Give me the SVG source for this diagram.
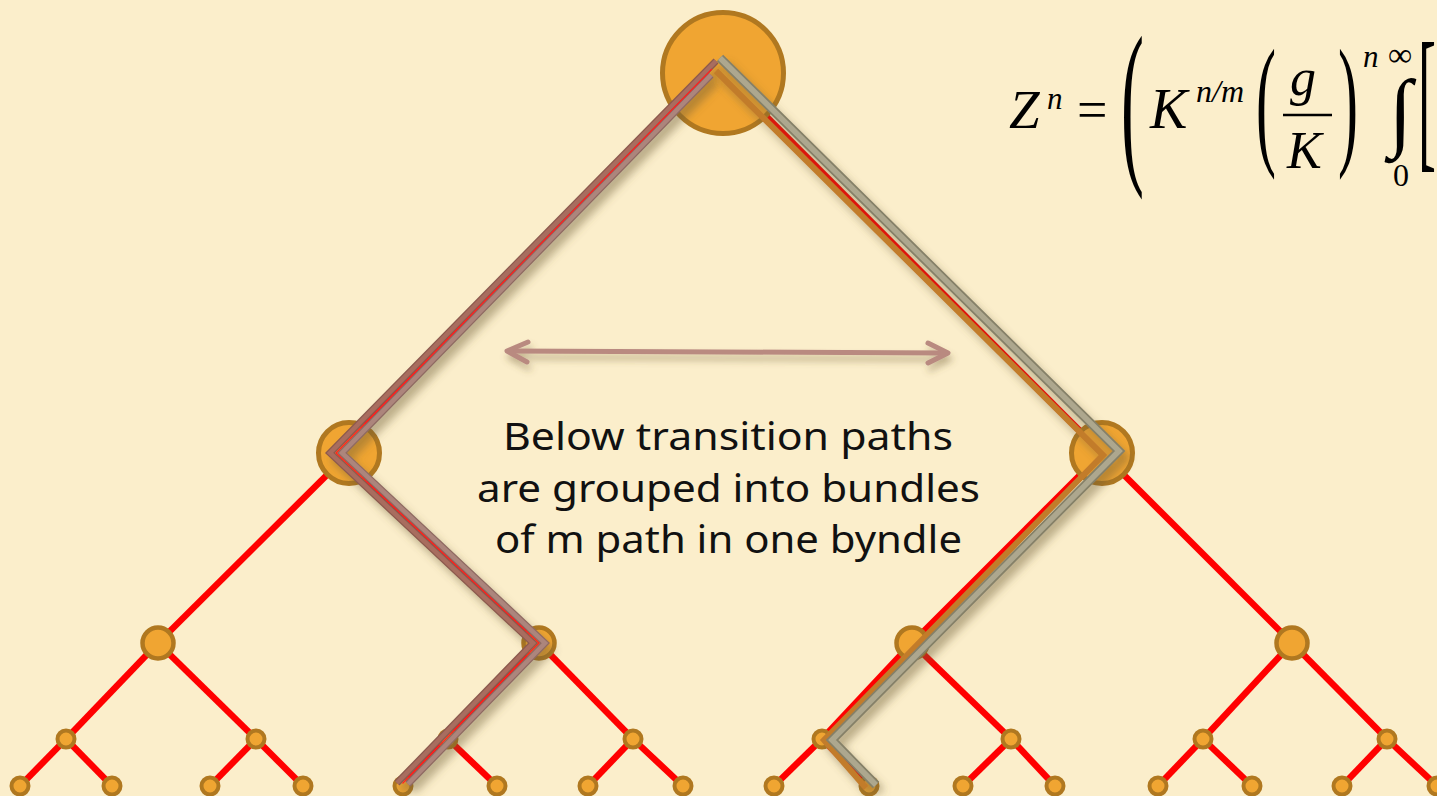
<svg xmlns="http://www.w3.org/2000/svg" width="1437" height="796" viewBox="0 0 1437 796">
<defs>
<style>
.edge{stroke:#FF0000;stroke-width:6.5;fill:none}
.node{fill:#F0A532;stroke:#B07820}
.n0{stroke-width:5}
.n1{stroke-width:5}
.n2{stroke-width:4.5}
.n3{stroke-width:4}
.lab{font-family:"Noto Sans","Open Sans",sans-serif;font-size:39px;fill:#111;text-anchor:middle}
.m{font-family:"Liberation Serif","Times New Roman",serif;fill:#000}
.mi{font-family:"Liberation Serif","Times New Roman",serif;font-style:italic;fill:#000}
.bo{fill:none;stroke-linejoin:miter;stroke-linecap:butt}
</style>
<filter id="sh" x="-10%" y="-10%" width="130%" height="130%">
<feDropShadow dx="5" dy="7" stdDeviation="4.5" flood-color="#6b5a30" flood-opacity="0.45"/>
</filter>
<filter id="sh2" x="-10%" y="-200%" width="120%" height="500%">
<feDropShadow dx="2" dy="6" stdDeviation="3.5" flood-color="#6b5a30" flood-opacity="0.4"/>
</filter>
</defs>
<rect x="0" y="0" width="1437" height="796" fill="#FBEECB"/>

<g id="connectors">
<line class="edge" x1="708" y1="73" x2="336" y2="453"/>
<line class="edge" x1="723" y1="73" x2="1102" y2="453"/>
<line class="edge" x1="349" y1="453" x2="158" y2="643"/>
<line class="edge" x1="336" y1="453" x2="539" y2="643"/>
<line class="edge" x1="1102" y1="453" x2="912" y2="643"/>
<line class="edge" x1="1102" y1="453" x2="1292" y2="643"/>
<line class="edge" x1="158" y1="643" x2="66" y2="739"/>
<line class="edge" x1="158" y1="643" x2="256" y2="739"/>
<line class="edge" x1="539" y1="643" x2="448" y2="739"/>
<line class="edge" x1="539" y1="643" x2="633" y2="739"/>
<line class="edge" x1="912" y1="643" x2="822" y2="739"/>
<line class="edge" x1="912" y1="643" x2="1011" y2="739"/>
<line class="edge" x1="1292" y1="643" x2="1203" y2="739"/>
<line class="edge" x1="1292" y1="643" x2="1387" y2="739"/>
<line class="edge" x1="66" y1="739" x2="20" y2="786"/>
<line class="edge" x1="66" y1="739" x2="112" y2="786"/>
<line class="edge" x1="256" y1="739" x2="210" y2="786"/>
<line class="edge" x1="256" y1="739" x2="303" y2="786"/>
<line class="edge" x1="448" y1="739" x2="403" y2="786"/>
<line class="edge" x1="448" y1="739" x2="497" y2="786"/>
<line class="edge" x1="633" y1="739" x2="588" y2="786"/>
<line class="edge" x1="633" y1="739" x2="683" y2="786"/>
<line class="edge" x1="822" y1="739" x2="774" y2="786"/>
<line class="edge" x1="822" y1="739" x2="869" y2="786"/>
<line class="edge" x1="1011" y1="739" x2="963" y2="786"/>
<line class="edge" x1="1011" y1="739" x2="1055" y2="786"/>
<line class="edge" x1="1203" y1="739" x2="1158" y2="786"/>
<line class="edge" x1="1203" y1="739" x2="1252" y2="786"/>
<line class="edge" x1="1387" y1="739" x2="1342" y2="786"/>
<line class="edge" x1="1387" y1="739" x2="1437" y2="786"/>
</g>

<g id="node-root"><circle class="node n0" cx="723" cy="73" r="60.5"/></g>
<g id="node-l1a"><circle class="node n1" cx="349" cy="453" r="30.5"/></g>
<g id="node-l1b"><circle class="node n1" cx="1102" cy="453" r="30.5"/></g>
<g id="node-l2a"><circle class="node n2" cx="158" cy="643" r="15.5"/></g>
<g id="node-l2b"><circle class="node n2" cx="539" cy="643" r="15.5"/></g>
<g id="node-l2c"><circle class="node n2" cx="912" cy="643" r="15.5"/></g>
<g id="node-l2d"><circle class="node n2" cx="1292" cy="643" r="15.5"/></g>
<g id="node-l3a"><circle class="node n3" cx="66" cy="739" r="8.5"/></g>
<g id="node-l3b"><circle class="node n3" cx="256" cy="739" r="8.5"/></g>
<g id="node-l3c"><circle class="node n3" cx="448" cy="739" r="8.5"/></g>
<g id="node-l3d"><circle class="node n3" cx="633" cy="739" r="8.5"/></g>
<g id="node-l3e"><circle class="node n3" cx="822" cy="739" r="8.5"/></g>
<g id="node-l3f"><circle class="node n3" cx="1011" cy="739" r="8.5"/></g>
<g id="node-l3g"><circle class="node n3" cx="1203" cy="739" r="8.5"/></g>
<g id="node-l3h"><circle class="node n3" cx="1387" cy="739" r="8.5"/></g>
<g id="leaves">
<circle class="node n3" cx="20" cy="786" r="8.5"/>
<circle class="node n3" cx="112" cy="786" r="8.5"/>
<circle class="node n3" cx="210" cy="786" r="8.5"/>
<circle class="node n3" cx="303" cy="786" r="8.5"/>
<circle class="node n3" cx="403" cy="786" r="8.5"/>
<circle class="node n3" cx="497" cy="786" r="8.5"/>
<circle class="node n3" cx="588" cy="786" r="8.5"/>
<circle class="node n3" cx="683" cy="786" r="8.5"/>
<circle class="node n3" cx="774" cy="786" r="8.5"/>
<circle class="node n3" cx="869" cy="786" r="8.5"/>
<circle class="node n3" cx="963" cy="786" r="8.5"/>
<circle class="node n3" cx="1055" cy="786" r="8.5"/>
<circle class="node n3" cx="1158" cy="786" r="8.5"/>
<circle class="node n3" cx="1252" cy="786" r="8.5"/>
<circle class="node n3" cx="1342" cy="786" r="8.5"/>
<circle class="node n3" cx="1437" cy="786" r="8.5"/>
</g>

<g id="bundle-left" filter="url(#sh)">
<polyline class="bo" points="716,61 330,453 533,643 397,783" stroke="#8C5A4E" stroke-width="7"/>
<polyline class="bo" points="716,61 330,453 533,643 397,783" stroke="#A86D5E" stroke-width="4.5"/>
<polyline class="bo" points="711,75 342,453 545,643 408,784" stroke="#8F6A62" stroke-width="7"/>
<polyline class="bo" points="711,75 342,453 545,643 408,784" stroke="#AC857C" stroke-width="4.5"/>
<polyline class="bo" points="712,69 336,453 539,643 402.5,783.5" stroke="#FF2020" stroke-width="1.2"/>
</g>

<g id="bundle-right" filter="url(#sh)">
<polyline class="bo" points="716,71 1103,455 824,740 866,788" stroke="#C27B2B" stroke-width="6"/>
<polyline class="bo" points="720,58 1119,451 832,740 876,785" stroke="#858068" stroke-width="9"/>
<polyline class="bo" points="720,58 1119,451 832,740 876,785" stroke="#ADA78E" stroke-width="5.5"/>
</g>

<g id="arrow" filter="url(#sh2)" fill="none" stroke="#B98A80" stroke-width="5" stroke-linecap="round" stroke-linejoin="round">
<line x1="510" y1="351" x2="945" y2="353"/>
<polyline points="528,342 507,351 527,362"/>
<polyline points="928,343 948,353 928,363"/>
</g>

<g id="label">
<text class="lab" x="728" y="450" textLength="450" lengthAdjust="spacingAndGlyphs">Below transition paths</text>
<text class="lab" x="728.5" y="501.5" textLength="503" lengthAdjust="spacingAndGlyphs">are grouped into bundles</text>
<text class="lab" x="728.5" y="553" textLength="467" lengthAdjust="spacingAndGlyphs">of m path in one byndle</text>
</g>

<g id="formula">
<text class="mi" x="1009" y="128" font-size="55">Z</text>
<text class="mi" x="1047" y="109" font-size="31">n</text>
<text class="m" x="1077" y="128" font-size="54">=</text>
<text class="m" font-size="60" transform="translate(1121,161) scale(1.15,3.0)">(</text>
<text class="mi" x="1150" y="128" font-size="56">K</text>
<text class="mi" x="1196" y="102" font-size="32">n/m</text>
<text class="m" font-size="60" transform="translate(1256,149) scale(1,2.39)">(</text>
<text class="mi" x="1290" y="95" font-size="52">g</text>
<line x1="1283" y1="115" x2="1332" y2="115" stroke="#000" stroke-width="2.5"/>
<text class="mi" x="1287" y="168" font-size="52">K</text>
<text class="m" font-size="60" transform="translate(1338,149) scale(1,2.39)">)</text>
<text class="mi" x="1363" y="67" font-size="31">n</text>
<text class="m" x="1388" y="66" font-size="34">∞</text>
<text class="m" font-size="60" transform="translate(1389,140) scale(1.4,1.45)">∫</text>
<text class="m" x="1393" y="186" font-size="32">0</text>
<text class="m" font-size="60" transform="translate(1418,151) scale(0.9,2.6)">[</text>
</g>
</svg>
